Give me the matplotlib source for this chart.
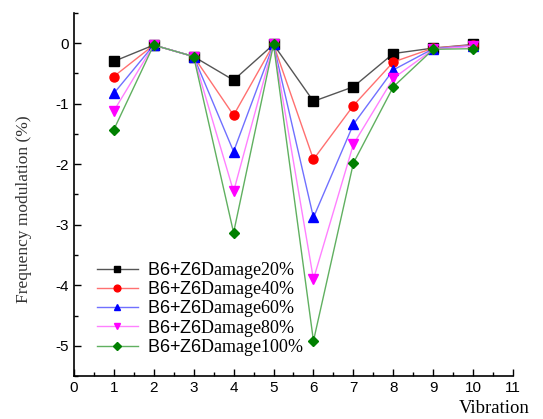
import matplotlib
matplotlib.use("Agg")
import matplotlib.pyplot as plt
from matplotlib.ticker import MultipleLocator

plt.rcParams['font.family'] = 'Liberation Sans'
plt.rcParams['mathtext.fontset'] = 'custom'
plt.rcParams['mathtext.rm'] = 'Liberation Serif'
plt.rcParams['axes.unicode_minus'] = False

# Data
vibration = [1, 2, 3, 4, 5, 6, 7, 8, 9, 10]
damage20 = [-0.30, -0.03, -0.22, -0.61, -0.02, -0.96, -0.72, -0.17, -0.08, -0.02]
damage40 = [-0.55, -0.03, -0.22, -1.19, -0.02, -1.92, -1.03, -0.31, -0.08, -0.03]
damage60 = [-0.83, -0.03, -0.22, -1.79, -0.02, -2.88, -1.34, -0.44, -0.09, -0.04]
damage80 = [-1.12, -0.03, -0.22, -2.45, -0.02, -3.90, -1.67, -0.58, -0.10, -0.05]
damage100 = [-1.43, -0.03, -0.22, -3.13, -0.02, -4.92, -1.98, -0.72, -0.10, -0.09]

series = [
    ("20", damage20, 's', 'black', '#555555'),
    ("40", damage40, 'o', 'red', '#ff7070'),
    ("60", damage60, '^', 'blue', '#7070ff'),
    ("80", damage80, 'v', 'magenta', '#ff80ff'),
    ("100", damage100, 'D', 'green', '#60b060'),
]

fig = plt.figure(figsize=(5.43, 4.19), dpi=100)
ax = fig.add_axes([0.136, 0.1026, 0.809, 0.8664])

for pct, vals, marker, color, line_color in series:
    ax.plot(vibration, vals, color=line_color, lw=1.0, marker=marker,
            mfc=color, mec=color, ms=6.5 if marker != 'D' else 5.5,
            label=r"B6+Z6$\mathrm{Damage" + pct + r"\%}$")

ax.set_xlim(0, 11)
ax.set_ylim(-5.5, 0.5)
ax.xaxis.set_major_locator(MultipleLocator(1))
ax.xaxis.set_minor_locator(MultipleLocator(0.5))
ax.yaxis.set_major_locator(MultipleLocator(1))
ax.yaxis.set_minor_locator(MultipleLocator(0.5))
ax.set_yticks([0, -1, -2, -3, -4, -5])
ax.tick_params(which='major', direction='in', length=5, width=1, labelsize=11)
ax.tick_params(which='minor', direction='in', length=3, width=1)
ax.spines['top'].set_visible(False)
ax.spines['right'].set_visible(False)
ax.spines['left'].set_linewidth(1.2)
ax.spines['bottom'].set_linewidth(1.2)

ax.legend(loc='lower left', bbox_to_anchor=(0.052, 0.05), frameon=False,
          fontsize=13, handlelength=2.3, labelspacing=-0.1, handletextpad=0.5,
          borderaxespad=0, borderpad=0, markerscale=0.75)

fig.text(0.045, 0.5, "Frequency modulation (%)", rotation=90, va='center',
         ha='center', family='Liberation Serif', fontsize=12.5, color='#333333')
fig.text(0.975, 0.005, "Vibration", ha='right', va='bottom',
         family='Liberation Serif', fontsize=13.5)

fig.savefig("out.png", dpi=100)
